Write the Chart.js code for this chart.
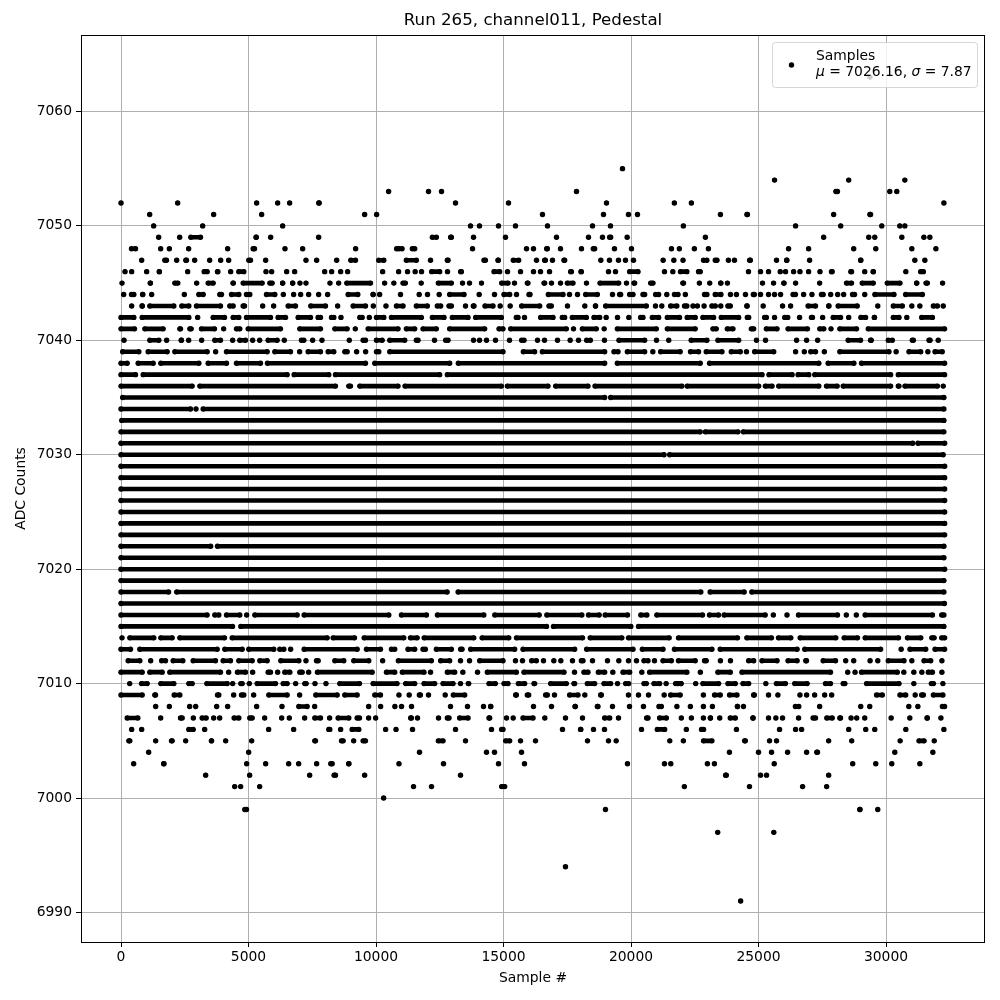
<!DOCTYPE html>
<html>
<head>
<meta charset="utf-8">
<script src="https://cdn.jsdelivr.net/npm/chart.js@4"></script>
<style>
  body { margin: 0; background: #fff; }
  canvas { display: block; }
</style>
</head>
<body>
<canvas id="pedestal" width="1000" height="1000"></canvas>
<script>
// one list per ADC level: a number is a lone sample, [a, b] is a stretch where the dots overlap
const r7063 = [29370];
const r7055 = [19666];
const r7054 = [25629, 28537, 30738];
const r7053 = [10495, 12059, 12569, 17862, [27950, 28180], 30148, 30423];
const r7052 = [0, 2222, 5319, 6143, 6613, [7672, 7855], 13118, 15196, 19039, 21700, 22367, 32270];
const r7051 = [1124, 3633, 5515, 9554, 10024, 16529, 18921, 19901, 20254, 23507, [24463, 24650], 27947, [29284, 29480]];
const r7050 = [1281, 3202, 6339, 13706, 14059, 14804, 15470, 16725, 18490, 19195, 22053, 26454, 28223, 29834, 30541, 30738];
const r7049 = [1477, 2300, [2653, 3202], [5241, 5359], 5868, 7750, [12125, 12451], [12843, 13040], 13824, 15078, 17078, 18333, 18882, [19078, 19287], 19849, 22917, 27555, 29323, 29559, 30620, 31485, 31720];
const r7048 = [[327, 654], 1555, 1895, 2653, 4182, [5097, 5319], 6430, 7123, 9201, 10809, [10818, 11105], [11340, 11602], 13785, 15902, 16176, [16608, 16804], 17235, 18058, [18437, 18660], 19352, 20019, 21587, 21896, 22485, 23035, 26179, 26965, 28733, 29598, 31013, 31956];
const r7047 = [810, [1634, 1869], 2183, [2457, 2653], 2888, 3477, 3908, 4222, [4927, 5163], 5672, 7254, 7672, 8456, [8927, 9280], [10024, 10391], [11105, 11667], 12138, [12713, 12909], [14150, 14373], [14712, 14870], [15300, 15680], 16294, [16529, 16725], 16921, [17287, 17483], 18816, 19156, 19509, 19783, 20097, 21260, 21680, 22040, [22760, 23060], [23220, 23455], 23820, 24057, [24568, 24764], 25707, [26035, 26180], 27004, [28930, 29087], 31130, 31524];
const r7046 = [157, 418, 1006, [1438, 1568], 2614, [3176, 3464], [3699, 3882], 4300, [4535, 4901], 5685, 5908, 6496, 6809, 7986, 8260, 8613, 8887, 10260, 10887, 11236, 11536, 11785, [12098, 12582], 12804, [13235, 13432], [14543, 14935], 15157, 15667, 16176, 16451, 16804, [17549, 17745], [17954, 18137], 19117, 19392, [19862, 20359], 21313, 21640, [21856, 22275], [22563, 22800], 24607, 25079, 25393, 25852, 26061, 26376, 26625, 26965, 27410, [27777, 27974], [28537, 28733], 29166, [29415, 29585], 30777, [31275, 31550]];
const r7045 = [39, [1085, 1216], [2026, 2313], 2967, [3333, 3699], [4313, 4483], [4705, 5620], [5751, 6012], [6274, 6404], [6666, 6796], 7018, 7254, 8195, 8535, [8770, 9868], 10338, 10700, [10974, 11236], 11772, [12360, 13040], 13392, 13667, 14137, [14843, 15261], 15431, [15850, 16045], [16503, 16699], 16882, 17235, [17418, 17810], 18254, [18699, 19601], 19823, [20032, 20228], [20686, 20947], [21948, 22144], 22681, 23087, [23455, 23585], 23781, 25157, 25590, [25917, 26074], 26454, 27397, [28367, 28733], [28982, 29585], [29965, 30633], [31118, 31288], [31485, 31707], 32218];
const r7044 = [105, [327, 588], [784, 915], 1202, 2483, [2967, 3307], [3790, 4026], [4248, 4705], [4836, 5136], [5620, 6117], 6365, 6770, 7045, 7358, 7750, 8103, [8822, 9371], [9802, 9972], 10142, 10961, 11693, 12020, 12477, [12804, 13536], 14046, 14647, [14935, 15327], 15510, [15915, 16124], [16673, 17418], 17588, 17902, [18137, 18764], 19274, [19470, 19679], [19862, 20162], [20385, 20620], [20881, 21169], 21404, [21620, 21927], 22131, [22799, 23061], [23218, 23611], 23900, 24135, 24489, [24712, 24921], 25079, 25393, 25629, 25865, [26271, 26533], 26769, 27096, [27384, 27620], 27830, 28105, 28340, [28603, 28851], 29166, [29480, 30397], [30685, 31511]];
const r7043 = [418, [745, 915], [1046, 2157], [2300, 2745], [2875, 3986], [4182, 4483], [4705, 4927], 5555, 5986, [6470, 6927], [7358, 8103], 8496, [9018, 9672], 9894, 10391, [10717, 11144], [11497, 12098], [12320, 12621], [12778, 13040], 13510, [13732, 13928], [14190, 14673], 14869, 15261, [15627, 16503], [16699, 16960], 17509, 18189, [18529, 18686], [18921, 20686], 20960, 21208, [21470, 21882], [22013, 22275], 22432, 22603, 22865, [23087, 23389], 23520, [23716, 23978], [24463, 24633], 25183, 25943, 26258, [26860, 27319], [27672, 27843], [28039, 28956], 29677, [30201, 30725], 31013, 31327, [31773, 32100], 32244];
const r7042 = [[0, 588], [745, 2745], 3006, [3529, 4143], [4313, 4705], [4836, 5947], [6077, 6535], [6862, 7515], [7646, 7907], [8169, 8430], 8626, [9280, 9541], 9737, [9933, 10391], [10521, 11863], [12125, 12752], [12909, 13693], [13824, 15000], [15418, 15654], 15823, [16372, 17026], [17222, 17483], [17614, 18333], [18464, 18856], 19026, 19470, 19914, [20293, 20554], [20751, 21169], [21339, 21987], [22118, 22603], [22734, 23323], [23455, 24306], [24476, 24699], [25157, 25393], 25629, [25943, 26231], 26611, [26991, 27201], 27515, [27843, 28301], 28537, [28930, 29284], [29480, 29611], [30201, 30594], 30816, [31314, 31904]];
const r7041 = [[0, 614], [850, 1738], [2222, 2418], [2614, 2836], [3071, 3751], 4026, [4444, 4744], [4901, 6339], [6927, 7907], [8300, 8953], 9188, [9606, 10948], [11105, 11602], [11759, 12451], [12804, 14346], [14739, 15065], [15196, 17549], 17745, [18006, 18725], 18947, [19379, 21078], [21339, 22603], [23127, 23428], [23690, 24083], [24633, 24895], [25223, 25812], [26074, 27004], [27319, 27646], 27843, [28105, 28930], [29218, 32297]];
const r7040 = [118, [1046, 1568], 1790, [2287, 2444], 2653, 3163, [3594, 3986], 4378, [4574, 4966], 5163, 5437, [5685, 6208], 6404, [6992, 7254], 7515, 7881, 8953, [9410, 9672], [9933, 10325], [10456, 11210], [11497, 11733], 12294, [12647, 12909], 13824, 14059, 14333, 14686, 15235, [15627, 15889], 16333, 16608, 17117, 17614, 17941, [18176, 18490], 18960, [19444, 20620], 21000, 21480, [22275, 23061], [23323, 24306], 24921, 25275, 26493, 26886, 27319, [28432, 29087], [29310, 29506], [30004, 30332], [30947, 31157], [31602, 31812], 32048];
const r7039 = [[65, 784], [980, 1895], [2026, 3464], 3712, [4052, 5816], [5947, 6731], 7005, [7254, 7907], [8038, 8430], [8692, 8953], 9240, 9593, [9933, 10195], [10456, 15065], [15693, 16307], [16438, 19052], [19248, 19575], [19771, 20620], 20856, [21078, 22013], [22249, 22734], [22865, 23651], [23847, 24371], 24528, [24764, 25681], 26454, 26795, [26965, 27319], 27581, [28105, 30201], 30397, [30816, 31445], 31642, [31838, 32205]];
const r7038 = [[0, 327], [588, 1346], [1477, 3137], [3333, 4222], [4444, 5555], [5659, 9672], [9868, 12974], [13144, 19052], [19379, 22799], [22996, 27450], [27646, 28825], [28956, 32297]];
const r7037 = [[0, 654], [784, 6600], [6705, 8234], [8325, 12582], [12713, 25223], [25327, 26402], [26467, 27057], [27122, 30266], [30397, 32297]];
const r7036 = [[0, 2875], [3006, 8495], [8848, 9083], [9280, 10948], [11053, 15000], [15065, 16830], [16960, 18398], [18503, 22079], [22118, 25092], [25183, 25616], [25707, 27450], [27581, 28170], [28236, 30266], [30397, 30594], [30659, 32100], 32244];
const r7035 = [[65, 19052], [19117, 32270]];
const r7034 = [[0, 2810], 2941, [3137, 32270]];
const r7033 = [[30, 32270]];
const r7032 = [[0, 22800], [22830, 24280], [24320, 32270]];
const r7031 = [[0, 31130], [31170, 32300]];
const r7030 = [[0, 21380], [21430, 32240]];
const r7029 = [[0, 32300]];
const r7028 = [[0, 32300]];
const r7027 = [[0, 32300]];
const r7026 = [[0, 32300]];
const r7025 = [[0, 32300]];
const r7024 = [[0, 32300]];
const r7023 = [[0, 32300]];
const r7022 = [[0, 3600], [3700, 32270]];
const r7021 = [[0, 32270]];
const r7020 = [[0, 32300]];
const r7019 = [[0, 32270]];
const r7018 = [[0, 1950], [2100, 12874], [13135, 22823], [23019, 24522], [24653, 32270]];
const r7017 = [[0, 32290]];
const r7016 = [[0, 3460], [3594, 3921], [4052, 4744], 4927, [5163, 6992], [7097, 10587], [10913, 12063], [12325, 14312], [14573, 16484], [16615, 18157], [18249, 18837], [18902, 19948], [20300, 20706], [20928, 22888], [22993, 23516], [23568, 25346], 25581, 26117, [26483, 28182], 28443, 28835, [29097, 31906], [32100, 32270]];
const r7015 = [[0, 4457], [4614, 16772], [16876, 20078], [20209, 32270]];
const r7014 = [39, [261, 1372], [1477, 2091], [2222, 4143], [4274, 8169], [8234, 9241], [9450, 11175], [11267, 11698], [11803, 13920], [14076, 15292], [15423, 18183], [18314, 19726], [19817, 21581], [21777, 24261], [24457, 25594], [25698, 26352], [26548, 28117], [28273, 28966], [29097, 30574], [30757, 31449], [31711, 31972], [32100, 32299]];
const r7013 = [[0, 457], [654, 3856], [3986, 4836], [4927, 6077], [6143, 6470], 6652, [7097, 9345], [9541, 10260], [10521, 10818], [11170, 11602], [11759, 12020], [12281, 13040], [13235, 13458], [13628, 15523], [15680, 17875], [18176, 20163], [20359, 21339], [21620, 23258], [23415, 26598], [26729, 29873], 30594, [30856, 31642], [31838, 32297]];
const r7012 = [[196, 823], 1163, [1509, 1830], [1960, 2509], [2744, 3790], [3921, 4378], [4535, 5228], [5359, 5816], [6182, 7058], 7254, [7581, 7816], [8300, 8822], [9044, 9802], 10260, [10792, 12255], [12451, 12974], 13314, 13667, [13981, 15065], 15470, 15745, [16019, 16372], 16568, 16973, 17248, 17705, [17967, 18202], 18490, 19078, 19522, 19901, 20215, [20424, 20751], 20921, [21169, 21666], [21777, 22603], [22799, 23035], 23507, 23900, [24528, 24895], [25052, 25812], [26074, 26598], [26769, 26965], [27450, 28105], 28419, 28733, 29375, 29677, [30004, 30790], 31013, [31406, 31838], 32192];
const r7011 = [[0, 915], [1046, 1699], [1830, 3986], 4222, [4483, 4966], 5163, [5685, 5947], 6143, [6339, 6705], [6927, 7188], 7358, [7620, 9933], [10325, 10818], [10948, 11967], 12138, [12713, 13170], 13406, 13981, [14281, 15588], [15719, 17457], 17784, [18071, 18398], [18634, 19052], 19287, [19601, 20032], 20424, [20646, 22275], 22720, [23323, 23978], [24266, 27908], 28498, 28786, [28956, 30528], 30699, 31092, 31406, [31576, 31904], 32192];
const r7010 = [340, [719, 1111], [1477, 2157], [2575, 2875], [3281, 4248], 4378, [4614, 4836], 5032, [5254, 6143], [6274, 6600], 6849, [7123, 7345], 7607, 8038, [8496, 9437], [9802, 10909], [11079, 11602], [11798, 12386], [12543, 13105], 13314, [13536, 13719], [14346, 14765], [14935, 15261], [15497, 15915], [16111, 16307], [16764, 17549], [17679, 17875], [18202, 18660], [18856, 19287], 19470, [19705, 19993], [20424, 20686], [20816, 21208], 21378, [21666, 21927], [21882, 22040], 22537, [22734, 23520], [23716, 24175], [24306, 24699], 25288, [25616, 26140], [26336, 26991], [27541, 27908], [28236, 28472], [29153, 30594], 31092, [31694, 31943], 32231];
const r7009 = [[0, 915], [1242, 1438], [2000, 2392], [3699, 3921], 4418, [4640, 4901], 5202, [5712, 6600], 7005, [7554, 8561], [8691, 9345], [9868, 10260], 10900, 11301, [11615, 11824], 12059, 12713, [12948, 13562], [15392, 15588], [15850, 16072], [16568, 16804], 16999, [17509, 18006], 18189, [18725, 18921], 19901, 20293, 20686, 21300, [21470, 22013], 22839, [23192, 23585], [23781, 24240], [24725, 24921], 25393, 25760, 26625, 26886, 27201, 27594, 27869, [29546, 29939], [30463, 30856], 31144, [31314, 31550], [31773, 32231]];
const r7008 = [1359, 1895, 2692, 2928, 3751, 4182, 5319, 6313, [6888, 7384], 7594, 9711, 10181, 10740, 11001, 11393, 12922, 13588, 14216, [14451, 14543], 16176, 16882, [17745, 17875], [18594, 18790], 19274, 19941, 20489, [21012, 21274], 21800, 22328, 22839, 23192, [24109, 24240], 24410, [26362, 26664], 27397, 29009, 29362, 30895, 31249, [32126, 32297]];
const r7007 = [[157, 745], 1555, [2248, 2483], 2836, [3097, 3424], 3634, 3869, [4352, 4705], [4966, 5228], 5633, 6300, 6600, 7201, [7515, 7907], 8181, [8430, 9018], [9175, 9437], 9711, 9986, [11275, 11471], 11628, 12451, [12713, 12948], [13196, 13693], [14346, 14543], 15118, 15379, [15680, 16242], 16621, 17431, 18098, [18882, 19248], 19509, [20528, 20751], [21038, 21470], 21974, 22367, 22839, [23035, 23192], 23480, [23808, 24175], [24699, 24869], 25393, 25681, 25943, 26572, [27057, 27319], [27594, 27974], [28105, 28301], 28629, 28851, 29166, 30201, 30934, [31524, 31707], 32153];
const r7006 = [418, 810, [2575, 2915], 3281, 5790, 6770, [8064, 8273], 8613, [8979, 9410], 10377, 10785, 11432, 13118, 14529, [14843, 15065], 17313, [17941, 18111], 18529, 18960, 20411, [20947, 21404], 22170, [22681, 22930], 24135, 25825, 26454, 26690, 28537, 29205, 29559, 30777, 32270];
const r7005 = [[222, 431], 1359, [1895, 2091], 2536, [3464, 3633], 4104, 5124, [7515, 7711], [8561, 8796], 9123, [9410, 9672], [12360, 12713], 13510, [15000, 15327], 15667, 16255, 18294, 19117, 19418, 21520, 22053, [22760, 23258], [24371, 24568], 25432, 25707, 27751, 28655, 30554, [31209, 31576], 31891];
const r7004 = [1085, 5006, 11706, 14333, 14647, 15706, 23860, 25000, 25511, 26140, 26886, [27201, 27397], 30345, 31838];
const r7003 = [497, [1594, 1764], 4927, 5672, 6574, 6966, 7672, [8142, 8365], [8848, 9018], 10900, 12647, 14804, 15823, 19862, 21313, 21560, 22996, 23271, 25616, 28694, 29598, 30227, 31327];
const r7002 = [3320, 5045, 7398, [8273, 8496], 9554, 13314, [23625, 23821], 25079, 25314, 27751];
const r7001 = [4457, 4692, 5437, 11471, 12177, [14843, 15131], 22092, 24646, 26729, 27672];
const r7000 = [10300];
const r6999 = [[4770, 5006], 18999, [28890, 29060], 29677];
const r6997 = [23400, 25600];
const r6994 = [17430];
const r6991 = [24300];

const levels = [7063, 7055, 7054, 7053, 7052, 7051, 7050, 7049, 7048, 7047, 7046, 7045, 7044, 7043, 7042, 7041, 7040, 7039, 7038, 7037, 7036, 7035, 7034, 7033, 7032, 7031, 7030, 7029, 7028, 7027, 7026, 7025, 7024, 7023, 7022, 7021, 7020, 7019, 7018, 7017, 7016, 7015, 7014, 7013, 7012, 7011, 7010, 7009, 7008, 7007, 7006, 7005, 7004, 7003, 7002, 7001, 7000, 6999, 6997, 6994, 6991];
const rows = [r7063, r7055, r7054, r7053, r7052, r7051, r7050, r7049, r7048, r7047, r7046, r7045, r7044, r7043, r7042, r7041, r7040, r7039, r7038, r7037, r7036, r7035, r7034, r7033, r7032, r7031, r7030, r7029, r7028, r7027, r7026, r7025, r7024, r7023, r7022, r7021, r7020, r7019, r7018, r7017, r7016, r7015, r7014, r7013, r7012, r7011, r7010, r7009, r7008, r7007, r7006, r7005, r7004, r7003, r7002, r7001, r7000, r6999, r6997, r6994, r6991];

const xTicks = [0, 5000, 10000, 15000, 20000, 25000, 30000];
const yTicks = [6990, 7000, 7010, 7020, 7030, 7040, 7050, 7060];

const FONT = '"DejaVu Sans"';
const EDGE = 85;

// points for the line dataset, a null y breaks the line between stretches
const points = [];
levels.forEach((y, i) => {
  rows[i].forEach(entry => {
    if (Array.isArray(entry)) {
      let a = entry[0] > 100 ? entry[0] + EDGE : entry[0];
      let b = entry[1] < 32200 ? entry[1] - EDGE : entry[1];
      if (a >= b) { a = b = (entry[0] + entry[1]) / 2; }
      points.push({ x: a, y }, { x: b, y }, { x: b, y: null });
    } else {
      points.push({ x: entry, y }, { x: entry, y: null });
    }
  });
});

// axes frame on all four sides and the matplotlib style legend (italic greek, so by hand)
const legendBox = {
  id: 'legendBox',
  afterDatasetsDraw(chart) {
    const c = chart.ctx;
    const a = chart.chartArea;
    c.save();
    c.strokeStyle = '#000';
    c.lineWidth = 1;
    c.strokeRect(Math.round(a.left) + 0.5, Math.round(a.top) + 0.5, a.right - a.left - 1, a.bottom - a.top);

    c.beginPath();
    c.roundRect(772.5, 42.5, 205, 45, 3);
    c.fillStyle = 'rgba(255,255,255,0.8)';
    c.fill();
    c.strokeStyle = 'rgba(204,204,204,0.8)';
    c.stroke();

    c.beginPath();
    c.arc(791.5, 65, 2.7, 0, Math.PI * 2);
    c.fillStyle = '#000';
    c.fill();

    c.textBaseline = 'alphabetic';
    c.textAlign = 'left';
    c.font = `13.89px ${FONT}`;
    c.fillText('Samples', 816, 59.5);

    let x = 816;
    const parts = [['\u03bc', true], [' = 7026.16, ', false], ['\u03c3', true], [' = 7.87', false]];
    parts.forEach(([text, italic]) => {
      c.font = `${italic ? 'italic ' : ''}13.89px ${FONT}`;
      c.fillText(text, x, 76);
      x += c.measureText(text).width;
    });
    c.restore();
  }
};

new Chart(document.getElementById('pedestal'), {
  type: 'scatter',
  data: {
    datasets: [{
      label: 'Samples',
      data: points,
      showLine: true,
      borderColor: '#000',
      borderWidth: 4.6,
      borderCapStyle: 'round',
      backgroundColor: '#000',
      pointRadius: 2.7,
      pointBorderWidth: 0,
      pointHoverRadius: 2.7,
    }]
  },
  options: {
    responsive: false,
    animation: false,
    layout: { padding: { right: 15 } },
    plugins: {
      legend: { display: false },
      tooltip: { enabled: false },
      title: {
        display: true,
        text: 'Run 265, channel011, Pedestal',
        fullSize: false,
        color: '#000',
        font: { family: FONT, size: 16.67, weight: 'normal' },
        padding: { top: 11, bottom: 4 },
      },
    },
    scales: {
      x: {
        min: -1569,
        max: 33882,
        afterBuildTicks: s => { s.ticks = xTicks.map(value => ({ value })); },
        afterFit: s => { s.height = 58; },
        grid: { color: '#b0b0b0', lineWidth: 1, tickColor: '#000', tickLength: 5 },
        border: { display: false },
        ticks: { color: '#000', font: { family: FONT, size: 13.89 }, padding: 2, maxRotation: 0, callback: v => String(v) },
        title: { display: true, text: 'Sample #', color: '#000', font: { family: FONT, size: 13.89 }, padding: 13 },
      },
      y: {
        min: 6987.42,
        max: 7066.68,
        afterBuildTicks: s => { s.ticks = yTicks.map(value => ({ value })); },
        afterFit: s => { s.width = 81; },
        grid: { color: '#b0b0b0', lineWidth: 1, tickColor: '#000', tickLength: 5 },
        border: { display: false },
        ticks: { color: '#000', font: { family: FONT, size: 13.89 }, padding: 4, callback: v => String(v) },
        title: { display: true, text: 'ADC Counts', color: '#000', font: { family: FONT, size: 13.89 }, padding: 13 },
      },
    },
  },
  plugins: [legendBox],
});
</script>
</body>
</html>
